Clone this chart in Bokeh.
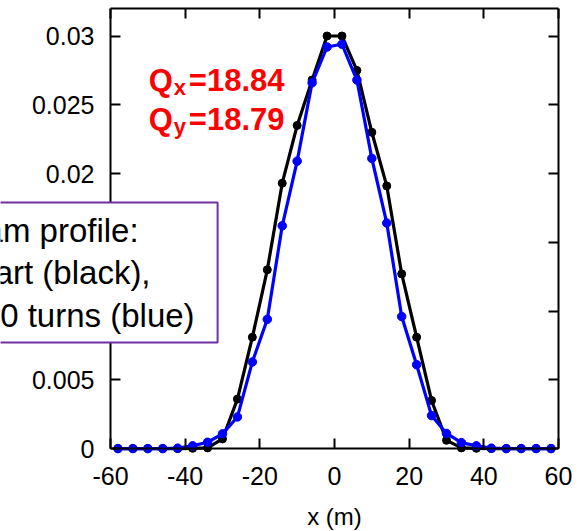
from bokeh.plotting import figure
from bokeh.models import LinearAxis, FixedTicker, Label, Range1d
from bokeh.embed import file_html
from bokeh.resources import INLINE

# ---------------- data ----------------
x_pos = [-58, -54, -50, -46, -42, -38, -34, -30, -26, -22, -18, -14, -10, -6, -2,
         2, 6, 10, 14, 18, 22, 26, 30, 34, 38, 42, 46, 50, 54, 58]
black_profile = [0.0, 0.0, 0.0, 0.0, 0.0, 0.00002, 0.00005, 0.0007, 0.0036, 0.0081,
                 0.0130, 0.0193, 0.0235, 0.0268, 0.0300,
                 0.0300, 0.0275, 0.0230, 0.0191, 0.0127, 0.0081, 0.0035, 0.0006,
                 0.00005, 0.00002, 0.0, 0.0, 0.0, 0.0, 0.0]
blue_profile = [0.0, 0.0, 0.0, 0.0, 0.00003, 0.0002, 0.00046, 0.00107, 0.0023, 0.0063,
                0.0094, 0.0162, 0.0209, 0.0266, 0.0292,
                0.0294, 0.0268, 0.0211, 0.0164, 0.0096, 0.0061, 0.0024, 0.0011,
                0.00043, 0.0002, 0.00003, 0.0, 0.0, 0.0, 0.0]
x_ticks = [-60, -40, -20, 0, 20, 40, 60]
x_tick_labels = ["-60", "-40", "-20", "0", "20", "40", "60"]
y_ticks = [0, 0.005, 0.01, 0.015, 0.02, 0.025, 0.03]
y_tick_labels = ["0", "0.005", "0.01", "0.015", "0.02", "0.025", "0.03"]
x_label = "x (m)"
tune_main = ["Q", "Q"]
tune_sub = ["x", "y"]
tune_vals = ["=18.84", "=18.79"]
legend_text = "Beam profile:\nat start (black),\nafter 100 turns (blue)"

FONT = "Liberation Sans"
X_MIN, X_MAX = -60, 60
Y_MIN, Y_MAX = 0, 0.032

# The frame covers the whole canvas (except a thin top strip) so that the legend
# box running off the left edge is not clipped; left, right and bottom axes are
# pinned at x=-60, x=60 and y=0 with fixed_location.
p = figure(width=588, height=531,
           x_range=Range1d(-89.464, 68.036), y_range=Range1d(-0.006029, Y_MAX),
           output_backend="svg", toolbar_location=None,
           x_axis_location=None, y_axis_location=None,
           min_border_left=0, min_border_right=0, min_border_top=8, min_border_bottom=0)
p.xgrid.visible = False
p.ygrid.visible = False
p.outline_line_color = None
p.background_fill_color = "white"
p.border_fill_color = "white"


def make_axis(ticks, labels, show_labels, standoff):
    ax = LinearAxis(ticker=FixedTicker(ticks=ticks),
                    major_label_overrides=dict(zip(ticks, labels if show_labels else [""] * len(ticks))))
    ax.major_tick_in = 10
    ax.major_tick_out = 0
    ax.major_tick_line_width = 2
    ax.major_tick_line_color = "black"
    ax.minor_tick_line_color = None
    ax.axis_line_width = 2
    ax.axis_line_color = "black"
    ax.major_label_text_font = FONT
    ax.major_label_text_color = "black"
    if show_labels:
        ax.major_label_text_font_size = "25px"
        ax.major_label_standoff = standoff
    else:
        ax.major_label_text_font_size = "0px"
        ax.major_label_standoff = 0
    return ax


left = make_axis(y_ticks, y_tick_labels, True, 16)
left.fixed_location = X_MIN
left.bounds = (Y_MIN, Y_MAX)
right = make_axis(y_ticks, y_tick_labels, False, 0)
right.fixed_location = X_MAX
right.bounds = (Y_MIN, Y_MAX)
bottom = make_axis(x_ticks, x_tick_labels, True, 18)
bottom.fixed_location = Y_MIN
bottom.bounds = (X_MIN, X_MAX)
top = make_axis(x_ticks, x_tick_labels, False, 0)
top.bounds = (X_MIN, X_MAX)
bottom.axis_label = x_label
bottom.axis_label_text_font = FONT
bottom.axis_label_text_font_size = "24px"
bottom.axis_label_text_font_style = "normal"
bottom.axis_label_text_color = "black"
bottom.axis_label_standoff = 15

p.add_layout(left, "left")
p.add_layout(right, "right")
p.add_layout(bottom, "below")
p.add_layout(top, "above")

# ---------------- curves ----------------
p.line(x_pos, black_profile, line_color="black", line_width=3.2)
p.scatter(x_pos, black_profile, size=8, fill_color="black", line_color="black")
p.line(x_pos, blue_profile, line_color="#0000FF", line_width=3.2)
p.scatter(x_pos, blue_profile, size=8.5, fill_color="#0000FF", line_color="#0000FF")

# ---------------- tune annotation ----------------
tune_y = [0.0268, 0.0239]
sub_y = [0.02624, 0.02339]
for i in range(2):
    p.add_layout(Label(x=-49.74, y=tune_y[i], text=tune_main[i], text_font=FONT,
                       text_font_size="31px", text_font_style="bold", text_color="#FF0000",
                       text_baseline="alphabetic", text_align="left"))
    p.add_layout(Label(x=-43.04, y=sub_y[i], text=tune_sub[i], text_font=FONT,
                       text_font_size="22px", text_font_style="bold", text_color="#FF0000",
                       text_baseline="alphabetic", text_align="left"))
    p.add_layout(Label(x=-39.02, y=tune_y[i], text=tune_vals[i], text_font=FONT,
                       text_font_size="31px", text_font_style="bold", text_color="#FF0000",
                       text_baseline="alphabetic", text_align="left"))

# ---------------- legend box ----------------
box = Label(x=-78.5, y=0.0128, text=legend_text, text_font=FONT, text_font_size="33px",
            text_color="black", text_align="center", text_baseline="middle",
            text_line_height=1.15,
            background_fill_color="white", border_line_color="#7030A0", border_line_width=2,
            padding=(23, 9), level="overlay")
p.add_layout(box)

open("out.html", "w").write(file_html(p, INLINE))
